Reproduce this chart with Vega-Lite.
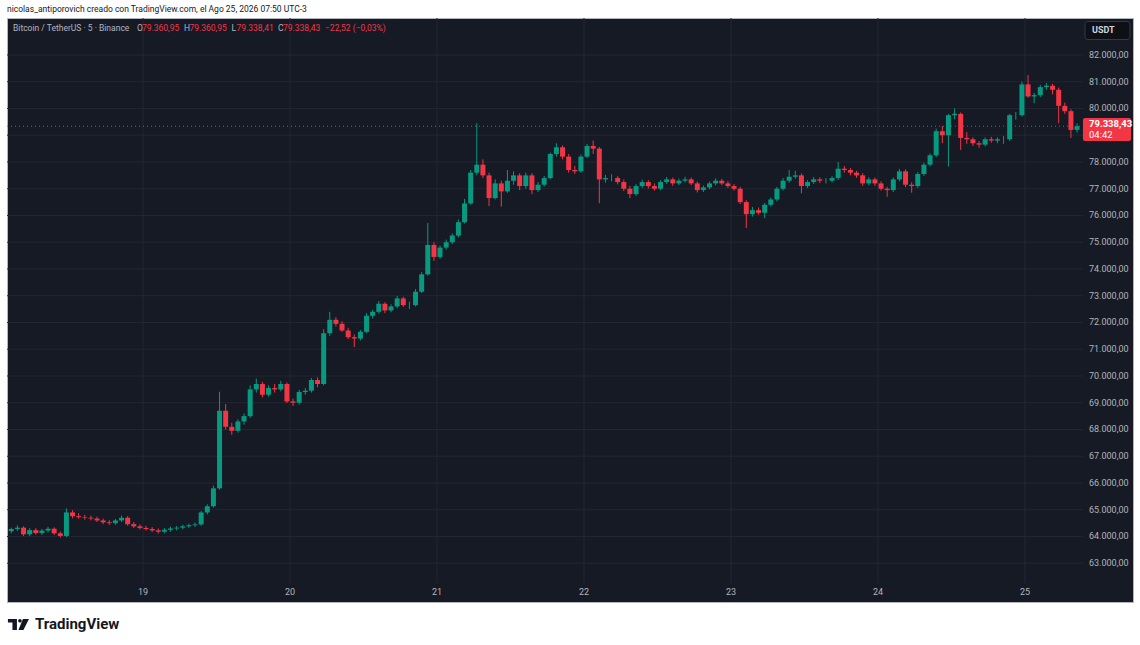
{
  "$schema": "https://vega.github.io/schema/vega-lite/v6.json",
  "width": 1126,
  "height": 584,
  "autosize": "none",
  "padding": {"left": 7, "top": 18, "right": 7, "bottom": 43},
  "background": "#ffffff",
  "title": {
    "text": "nicolas_antiporovich creado con TradingView.com, el Ago 25, 2026 07:50 UTC-3",
    "anchor": "start",
    "frame": "group",
    "font": "Roboto",
    "fontSize": 8.5,
    "fontWeight": "normal",
    "color": "#131722",
    "offset": 4
  },
  "config": {
    "view": {"fill": "#161a25", "stroke": "#b2b5be", "strokeWidth": 1},
    "locale": {
      "number": {"decimal": ",", "thousands": ".", "grouping": [3], "currency": ["", ""]}
    }
  },
  "datasets": {
    "grid": [
      {"p": 63000}, {"p": 64000}, {"p": 65000}, {"p": 66000}, {"p": 67000},
      {"p": 68000}, {"p": 69000}, {"p": 70000}, {"p": 71000}, {"p": 72000},
      {"p": 73000}, {"p": 74000}, {"p": 75000}, {"p": 76000}, {"p": 77000},
      {"p": 78000}, {"p": 79000}, {"p": 80000}, {"p": 81000}, {"p": 82000}
    ],
    "days": [
      {"d": "2026-08-19T00:00"}, {"d": "2026-08-20T00:00"}, {"d": "2026-08-21T00:00"},
      {"d": "2026-08-22T00:00"}, {"d": "2026-08-23T00:00"}, {"d": "2026-08-24T00:00"},
      {"d": "2026-08-25T00:00"}
    ],
    "candles": [
      {"t": "2026-08-18T02:30", "o": 64200, "h": 64330, "l": 64120, "c": 64280},
      {"t": "2026-08-18T03:30", "o": 64280, "h": 64420, "l": 64210, "c": 64330},
      {"t": "2026-08-18T04:30", "o": 64330, "h": 64380, "l": 64020, "c": 64080},
      {"t": "2026-08-18T05:30", "o": 64080, "h": 64310, "l": 64010, "c": 64240},
      {"t": "2026-08-18T06:30", "o": 64240, "h": 64310, "l": 64070, "c": 64130},
      {"t": "2026-08-18T07:30", "o": 64130, "h": 64280, "l": 64060, "c": 64220},
      {"t": "2026-08-18T08:30", "o": 64220, "h": 64360, "l": 64150, "c": 64290},
      {"t": "2026-08-18T09:30", "o": 64290, "h": 64340, "l": 64060, "c": 64120},
      {"t": "2026-08-18T10:30", "o": 64120, "h": 64190, "l": 63960, "c": 64020},
      {"t": "2026-08-18T11:30", "o": 64020, "h": 65050, "l": 63980, "c": 64900},
      {"t": "2026-08-18T12:30", "o": 64900, "h": 64980, "l": 64680, "c": 64760},
      {"t": "2026-08-18T13:30", "o": 64760, "h": 64870, "l": 64660, "c": 64720},
      {"t": "2026-08-18T14:30", "o": 64720, "h": 64810, "l": 64630, "c": 64700},
      {"t": "2026-08-18T15:30", "o": 64700, "h": 64780, "l": 64600, "c": 64670},
      {"t": "2026-08-18T16:30", "o": 64670, "h": 64740, "l": 64540, "c": 64600},
      {"t": "2026-08-18T17:30", "o": 64600, "h": 64670, "l": 64460, "c": 64530},
      {"t": "2026-08-18T18:30", "o": 64530, "h": 64610, "l": 64430, "c": 64500},
      {"t": "2026-08-18T19:30", "o": 64500, "h": 64660, "l": 64440, "c": 64600},
      {"t": "2026-08-18T20:30", "o": 64600, "h": 64780, "l": 64540, "c": 64700},
      {"t": "2026-08-18T21:30", "o": 64700, "h": 64760, "l": 64400, "c": 64460},
      {"t": "2026-08-18T22:30", "o": 64460, "h": 64540, "l": 64320, "c": 64380},
      {"t": "2026-08-18T23:30", "o": 64380, "h": 64450, "l": 64260, "c": 64320},
      {"t": "2026-08-19T00:30", "o": 64320, "h": 64400, "l": 64220, "c": 64280},
      {"t": "2026-08-19T01:30", "o": 64280, "h": 64350, "l": 64170, "c": 64230},
      {"t": "2026-08-19T02:30", "o": 64230, "h": 64300, "l": 64110, "c": 64180},
      {"t": "2026-08-19T03:30", "o": 64180, "h": 64320, "l": 64120, "c": 64250},
      {"t": "2026-08-19T04:30", "o": 64250, "h": 64370, "l": 64180, "c": 64300},
      {"t": "2026-08-19T05:30", "o": 64300, "h": 64390, "l": 64230, "c": 64330},
      {"t": "2026-08-19T06:30", "o": 64330, "h": 64440, "l": 64270, "c": 64380},
      {"t": "2026-08-19T07:30", "o": 64380, "h": 64480, "l": 64310, "c": 64420},
      {"t": "2026-08-19T08:30", "o": 64420, "h": 64520, "l": 64360, "c": 64450},
      {"t": "2026-08-19T09:30", "o": 64450, "h": 64950, "l": 64400, "c": 64900},
      {"t": "2026-08-19T10:30", "o": 64900, "h": 65200, "l": 64830, "c": 65130},
      {"t": "2026-08-19T11:30", "o": 65130, "h": 65900, "l": 65080, "c": 65800},
      {"t": "2026-08-19T12:30", "o": 65800, "h": 69410, "l": 65750, "c": 68700},
      {"t": "2026-08-19T13:30", "o": 68700, "h": 68950, "l": 68000, "c": 68100},
      {"t": "2026-08-19T14:30", "o": 68100, "h": 68250, "l": 67800, "c": 67950},
      {"t": "2026-08-19T15:30", "o": 67950, "h": 68380, "l": 67880, "c": 68300},
      {"t": "2026-08-19T16:30", "o": 68300, "h": 68600, "l": 68180, "c": 68500},
      {"t": "2026-08-19T17:30", "o": 68500, "h": 69650, "l": 68430, "c": 69500},
      {"t": "2026-08-19T18:30", "o": 69500, "h": 69900, "l": 69380, "c": 69700},
      {"t": "2026-08-19T19:30", "o": 69700, "h": 69780, "l": 69200, "c": 69300},
      {"t": "2026-08-19T20:30", "o": 69300, "h": 69650, "l": 69230, "c": 69550},
      {"t": "2026-08-19T21:30", "o": 69550, "h": 69700, "l": 69380, "c": 69500},
      {"t": "2026-08-19T22:30", "o": 69500, "h": 69820, "l": 69430, "c": 69700},
      {"t": "2026-08-19T23:30", "o": 69700, "h": 69760, "l": 68990, "c": 69050},
      {"t": "2026-08-20T00:30", "o": 69050, "h": 69150, "l": 68880, "c": 69000},
      {"t": "2026-08-20T01:30", "o": 69000, "h": 69480, "l": 68930, "c": 69400},
      {"t": "2026-08-20T02:30", "o": 69400, "h": 69550, "l": 69300, "c": 69450},
      {"t": "2026-08-20T03:30", "o": 69450, "h": 69920, "l": 69380, "c": 69850},
      {"t": "2026-08-20T04:30", "o": 69850, "h": 69950, "l": 69580, "c": 69700},
      {"t": "2026-08-20T05:30", "o": 69700, "h": 71750, "l": 69650, "c": 71600},
      {"t": "2026-08-20T06:30", "o": 71600, "h": 72400, "l": 71500, "c": 72100},
      {"t": "2026-08-20T07:30", "o": 72100, "h": 72200, "l": 71850, "c": 71950},
      {"t": "2026-08-20T08:30", "o": 71950, "h": 72050, "l": 71650, "c": 71700},
      {"t": "2026-08-20T09:30", "o": 71700, "h": 71800, "l": 71380, "c": 71450},
      {"t": "2026-08-20T10:30", "o": 71450, "h": 71550, "l": 71080, "c": 71400},
      {"t": "2026-08-20T11:30", "o": 71400, "h": 71720, "l": 71330, "c": 71650},
      {"t": "2026-08-20T12:30", "o": 71650, "h": 72350, "l": 71600, "c": 72250},
      {"t": "2026-08-20T13:30", "o": 72250, "h": 72480, "l": 72150, "c": 72400},
      {"t": "2026-08-20T14:30", "o": 72400, "h": 72800, "l": 72330, "c": 72700},
      {"t": "2026-08-20T15:30", "o": 72700, "h": 72760, "l": 72350, "c": 72450},
      {"t": "2026-08-20T16:30", "o": 72450, "h": 72680, "l": 72380, "c": 72600},
      {"t": "2026-08-20T17:30", "o": 72600, "h": 73000, "l": 72530, "c": 72900},
      {"t": "2026-08-20T18:30", "o": 72900, "h": 72960, "l": 72580, "c": 72650},
      {"t": "2026-08-20T19:30", "o": 72650, "h": 72780, "l": 72500, "c": 72650},
      {"t": "2026-08-20T20:30", "o": 72650, "h": 73250, "l": 72600, "c": 73150},
      {"t": "2026-08-20T21:30", "o": 73150, "h": 73880, "l": 73100, "c": 73800},
      {"t": "2026-08-20T22:30", "o": 73800, "h": 75720, "l": 73750, "c": 74900},
      {"t": "2026-08-20T23:30", "o": 74900, "h": 75000, "l": 74300, "c": 74450},
      {"t": "2026-08-21T00:30", "o": 74450, "h": 74880, "l": 74380, "c": 74800},
      {"t": "2026-08-21T01:30", "o": 74800, "h": 75100, "l": 74720, "c": 75000},
      {"t": "2026-08-21T02:30", "o": 75000, "h": 75330, "l": 74930, "c": 75250},
      {"t": "2026-08-21T03:30", "o": 75250, "h": 75850, "l": 75180, "c": 75750},
      {"t": "2026-08-21T04:30", "o": 75750, "h": 76620, "l": 75700, "c": 76450},
      {"t": "2026-08-21T05:30", "o": 76450, "h": 77700, "l": 76400, "c": 77600},
      {"t": "2026-08-21T06:30", "o": 77600, "h": 79450, "l": 77500, "c": 77900},
      {"t": "2026-08-21T07:30", "o": 77900, "h": 78100, "l": 77400, "c": 77500},
      {"t": "2026-08-21T08:30", "o": 77500, "h": 77600, "l": 76350, "c": 76650},
      {"t": "2026-08-21T09:30", "o": 76650, "h": 77350, "l": 76600, "c": 77200},
      {"t": "2026-08-21T10:30", "o": 77200, "h": 77300, "l": 76330, "c": 76900},
      {"t": "2026-08-21T11:30", "o": 76900, "h": 77700, "l": 76850, "c": 77300},
      {"t": "2026-08-21T12:30", "o": 77300, "h": 77650, "l": 77150, "c": 77500},
      {"t": "2026-08-21T13:30", "o": 77500, "h": 77580, "l": 76950, "c": 77100},
      {"t": "2026-08-21T14:30", "o": 77100, "h": 77600, "l": 77000, "c": 77500},
      {"t": "2026-08-21T15:30", "o": 77500, "h": 77580, "l": 76800, "c": 76950},
      {"t": "2026-08-21T16:30", "o": 76950, "h": 77250, "l": 76880, "c": 77150},
      {"t": "2026-08-21T17:30", "o": 77150, "h": 77480, "l": 77080, "c": 77400},
      {"t": "2026-08-21T18:30", "o": 77400, "h": 78350, "l": 77350, "c": 78300},
      {"t": "2026-08-21T19:30", "o": 78300, "h": 78700, "l": 78200, "c": 78550},
      {"t": "2026-08-21T20:30", "o": 78550, "h": 78620, "l": 78100, "c": 78200},
      {"t": "2026-08-21T21:30", "o": 78200, "h": 78300, "l": 77600, "c": 77700},
      {"t": "2026-08-21T22:30", "o": 77700, "h": 77850, "l": 77550, "c": 77650},
      {"t": "2026-08-21T23:30", "o": 77650, "h": 78280, "l": 77600, "c": 78200},
      {"t": "2026-08-22T00:30", "o": 78200, "h": 78680, "l": 78150, "c": 78600},
      {"t": "2026-08-22T01:30", "o": 78600, "h": 78800, "l": 78300, "c": 78500},
      {"t": "2026-08-22T02:30", "o": 78500, "h": 78560, "l": 76460, "c": 77350},
      {"t": "2026-08-22T03:30", "o": 77350, "h": 77520, "l": 77230, "c": 77400},
      {"t": "2026-08-22T04:30", "o": 77400, "h": 77540, "l": 77280, "c": 77400},
      {"t": "2026-08-22T05:30", "o": 77400, "h": 77470, "l": 77160, "c": 77250},
      {"t": "2026-08-22T06:30", "o": 77250, "h": 77340, "l": 76910, "c": 77000},
      {"t": "2026-08-22T07:30", "o": 77000, "h": 77100, "l": 76650, "c": 76800},
      {"t": "2026-08-22T08:30", "o": 76800, "h": 77170, "l": 76730, "c": 77100},
      {"t": "2026-08-22T09:30", "o": 77100, "h": 77340, "l": 77030, "c": 77250},
      {"t": "2026-08-22T10:30", "o": 77250, "h": 77320, "l": 77010, "c": 77100},
      {"t": "2026-08-22T11:30", "o": 77100, "h": 77200, "l": 76930, "c": 77000},
      {"t": "2026-08-22T12:30", "o": 77000, "h": 77320, "l": 76940, "c": 77250},
      {"t": "2026-08-22T13:30", "o": 77250, "h": 77440, "l": 77180, "c": 77350},
      {"t": "2026-08-22T14:30", "o": 77350, "h": 77420, "l": 77110, "c": 77200},
      {"t": "2026-08-22T15:30", "o": 77200, "h": 77380, "l": 77130, "c": 77300},
      {"t": "2026-08-22T16:30", "o": 77300, "h": 77450, "l": 77230, "c": 77350},
      {"t": "2026-08-22T17:30", "o": 77350, "h": 77420, "l": 77130, "c": 77200},
      {"t": "2026-08-22T18:30", "o": 77200, "h": 77270, "l": 76860, "c": 76950},
      {"t": "2026-08-22T19:30", "o": 76950, "h": 77120, "l": 76880, "c": 77050},
      {"t": "2026-08-22T20:30", "o": 77050, "h": 77270, "l": 76980, "c": 77200},
      {"t": "2026-08-22T21:30", "o": 77200, "h": 77390, "l": 77130, "c": 77300},
      {"t": "2026-08-22T22:30", "o": 77300, "h": 77370, "l": 77130, "c": 77200},
      {"t": "2026-08-22T23:30", "o": 77200, "h": 77280, "l": 77030, "c": 77100},
      {"t": "2026-08-23T00:30", "o": 77100, "h": 77170, "l": 76930, "c": 77000},
      {"t": "2026-08-23T01:30", "o": 77000, "h": 77070, "l": 76430, "c": 76500},
      {"t": "2026-08-23T02:30", "o": 76500, "h": 76570, "l": 75530, "c": 76050},
      {"t": "2026-08-23T03:30", "o": 76050, "h": 76320, "l": 75960, "c": 76200},
      {"t": "2026-08-23T04:30", "o": 76200, "h": 76300, "l": 76030, "c": 76100},
      {"t": "2026-08-23T05:30", "o": 76100, "h": 76470, "l": 75900, "c": 76400},
      {"t": "2026-08-23T06:30", "o": 76400, "h": 76670, "l": 76330, "c": 76600},
      {"t": "2026-08-23T07:30", "o": 76600, "h": 77070, "l": 76530, "c": 77000},
      {"t": "2026-08-23T08:30", "o": 77000, "h": 77400, "l": 76930, "c": 77300},
      {"t": "2026-08-23T09:30", "o": 77300, "h": 77700, "l": 77230, "c": 77450},
      {"t": "2026-08-23T10:30", "o": 77450, "h": 77670, "l": 77380, "c": 77500},
      {"t": "2026-08-23T11:30", "o": 77500, "h": 77570, "l": 76830, "c": 77100},
      {"t": "2026-08-23T12:30", "o": 77100, "h": 77320, "l": 77030, "c": 77250},
      {"t": "2026-08-23T13:30", "o": 77250, "h": 77440, "l": 77180, "c": 77350},
      {"t": "2026-08-23T14:30", "o": 77350, "h": 77420, "l": 77210, "c": 77300},
      {"t": "2026-08-23T15:30", "o": 77300, "h": 77400, "l": 77200, "c": 77300},
      {"t": "2026-08-23T16:30", "o": 77300, "h": 77470, "l": 77230, "c": 77400},
      {"t": "2026-08-23T17:30", "o": 77400, "h": 78000, "l": 77330, "c": 77750},
      {"t": "2026-08-23T18:30", "o": 77750, "h": 77850, "l": 77600, "c": 77700},
      {"t": "2026-08-23T19:30", "o": 77700, "h": 77770, "l": 77500, "c": 77600},
      {"t": "2026-08-23T20:30", "o": 77600, "h": 77670, "l": 77410, "c": 77500},
      {"t": "2026-08-23T21:30", "o": 77500, "h": 77580, "l": 77110, "c": 77200},
      {"t": "2026-08-23T22:30", "o": 77200, "h": 77430, "l": 77130, "c": 77350},
      {"t": "2026-08-23T23:30", "o": 77350, "h": 77420, "l": 77110, "c": 77200},
      {"t": "2026-08-24T00:30", "o": 77200, "h": 77280, "l": 76930, "c": 77000},
      {"t": "2026-08-24T01:30", "o": 77000, "h": 77070, "l": 76700, "c": 76950},
      {"t": "2026-08-24T02:30", "o": 76950, "h": 77420, "l": 76880, "c": 77350},
      {"t": "2026-08-24T03:30", "o": 77350, "h": 77740, "l": 77280, "c": 77650},
      {"t": "2026-08-24T04:30", "o": 77650, "h": 77720, "l": 77060, "c": 77150},
      {"t": "2026-08-24T05:30", "o": 77150, "h": 77240, "l": 76850, "c": 77100},
      {"t": "2026-08-24T06:30", "o": 77100, "h": 77620, "l": 77030, "c": 77550},
      {"t": "2026-08-24T07:30", "o": 77550, "h": 77970, "l": 77480, "c": 77900},
      {"t": "2026-08-24T08:30", "o": 77900, "h": 78320, "l": 77830, "c": 78250},
      {"t": "2026-08-24T09:30", "o": 78250, "h": 79250, "l": 78180, "c": 79150},
      {"t": "2026-08-24T10:30", "o": 79150, "h": 79350, "l": 78700, "c": 79000},
      {"t": "2026-08-24T11:30", "o": 79000, "h": 79800, "l": 77830, "c": 79750},
      {"t": "2026-08-24T12:30", "o": 79750, "h": 80000, "l": 79600, "c": 79800},
      {"t": "2026-08-24T13:30", "o": 79800, "h": 79850, "l": 78450, "c": 78900},
      {"t": "2026-08-24T14:30", "o": 78900, "h": 79120, "l": 78680, "c": 78850},
      {"t": "2026-08-24T15:30", "o": 78850, "h": 78920, "l": 78600, "c": 78700},
      {"t": "2026-08-24T16:30", "o": 78700, "h": 78780, "l": 78530, "c": 78650},
      {"t": "2026-08-24T17:30", "o": 78650, "h": 78920, "l": 78580, "c": 78850},
      {"t": "2026-08-24T18:30", "o": 78850, "h": 78940, "l": 78720, "c": 78800},
      {"t": "2026-08-24T19:30", "o": 78800, "h": 78920, "l": 78700, "c": 78850},
      {"t": "2026-08-24T20:30", "o": 78850, "h": 78970, "l": 78680, "c": 78850},
      {"t": "2026-08-24T21:30", "o": 78850, "h": 79800, "l": 78780, "c": 79750},
      {"t": "2026-08-24T22:30", "o": 79750, "h": 79870, "l": 79580, "c": 79750},
      {"t": "2026-08-24T23:30", "o": 79750, "h": 81000, "l": 79700, "c": 80900},
      {"t": "2026-08-25T00:30", "o": 80900, "h": 81250, "l": 80400, "c": 80450},
      {"t": "2026-08-25T01:30", "o": 80450, "h": 80580, "l": 80200, "c": 80500},
      {"t": "2026-08-25T02:30", "o": 80500, "h": 80880, "l": 80430, "c": 80800},
      {"t": "2026-08-25T03:30", "o": 80800, "h": 80950, "l": 80700, "c": 80850},
      {"t": "2026-08-25T04:30", "o": 80850, "h": 80920, "l": 80530, "c": 80700},
      {"t": "2026-08-25T05:30", "o": 80700, "h": 80780, "l": 79450, "c": 80100},
      {"t": "2026-08-25T06:30", "o": 80100, "h": 80220, "l": 79800, "c": 79900},
      {"t": "2026-08-25T07:30", "o": 79900, "h": 79970, "l": 78900, "c": 79200},
      {"t": "2026-08-25T08:30", "o": 79200, "h": 79450, "l": 79100, "c": 79338.43}
    ]
  },
  "layer": [
    {
      "data": {"name": "grid"},
      "mark": {"type": "rule", "color": "#242733", "strokeWidth": 1},
      "encoding": {
        "y": {
          "field": "p",
          "type": "quantitative",
          "scale": {"domain": [61551, 83383], "nice": false, "zero": false},
          "axis": null
        },
        "x": {
          "datum": {"year": 2026, "month": 8, "date": 18, "hours": 1, "minutes": 48},
          "type": "temporal",
          "scale": {
            "domain": [
              {"year": 2026, "month": 8, "date": 18, "hours": 1, "minutes": 48},
              {"year": 2026, "month": 8, "date": 25, "hours": 17, "minutes": 38}
            ],
            "padding": 0
          },
          "axis": null
        },
        "x2": {"datum": {"year": 2026, "month": 8, "date": 25, "hours": 9, "minutes": 28}}
      }
    },
    {
      "data": {"name": "days"},
      "mark": {"type": "rule", "color": "#242733", "strokeWidth": 1},
      "encoding": {
        "x": {"field": "d", "type": "temporal", "axis": null},
        "y": {"datum": 83383, "type": "quantitative", "axis": null},
        "y2": {"datum": 62261}
      }
    },
    {
      "data": {"name": "grid"},
      "transform": [{"filter": "datum.p != 79000"}],
      "mark": {"type": "text", "align": "left", "baseline": "middle", "font": "Roboto", "fontSize": 9, "color": "#b2b5be"},
      "encoding": {
        "x": {"datum": {"year": 2026, "month": 8, "date": 25, "hours": 10, "minutes": 27}, "type": "temporal", "axis": null},
        "y": {"field": "p", "type": "quantitative", "axis": null},
        "text": {"field": "p", "type": "quantitative", "format": ",.2f"}
      }
    },
    {
      "data": {"name": "days"},
      "mark": {"type": "text", "align": "center", "baseline": "middle", "font": "Roboto", "fontSize": 9, "color": "#b2b5be"},
      "encoding": {
        "x": {"field": "d", "type": "temporal", "axis": null},
        "y": {"datum": 61925, "type": "quantitative", "axis": null},
        "text": {"field": "d", "type": "temporal", "format": "%-d"}
      }
    },
    {
      "data": {"values": [{}]},
      "mark": {"type": "rule", "color": "#f23645", "strokeWidth": 1, "strokeDash": [1, 3], "opacity": 0.9},
      "encoding": {
        "y": {"datum": 79338.43, "type": "quantitative", "axis": null},
        "x": {"datum": {"year": 2026, "month": 8, "date": 18, "hours": 1, "minutes": 48}, "type": "temporal", "axis": null},
        "x2": {"datum": {"year": 2026, "month": 8, "date": 25, "hours": 9, "minutes": 28}}
      }
    },
    {
      "data": {"name": "candles"},
      "mark": {"type": "rule", "strokeWidth": 1},
      "encoding": {
        "x": {"field": "t", "type": "temporal", "axis": null},
        "y": {"field": "l", "type": "quantitative", "axis": null},
        "y2": {"field": "h"},
        "color": {
          "condition": {"test": "datum.c >= datum.o", "value": "#089981"},
          "value": "#f23645"
        }
      }
    },
    {
      "data": {"name": "candles"},
      "mark": {"type": "bar", "size": 5},
      "encoding": {
        "x": {"field": "t", "type": "temporal", "axis": null},
        "y": {"field": "o", "type": "quantitative", "axis": null},
        "y2": {"field": "c"},
        "color": {
          "condition": {"test": "datum.c >= datum.o", "value": "#089981"},
          "value": "#f23645"
        }
      }
    },
    {
      "data": {"values": [{}]},
      "mark": {"type": "text", "text": "Bitcoin / TetherUS · 5 · Binance", "align": "left", "baseline": "middle", "font": "Roboto", "fontSize": 8.5, "color": "#b2b5be"},
      "encoding": {
        "x": {"datum": {"year": 2026, "month": 8, "date": 18, "hours": 2, "minutes": 47}, "type": "temporal", "axis": null},
        "y": {"datum": 83009, "type": "quantitative", "axis": null}
      }
    },
    {
      "data": {"values": [{}]},
      "mark": {"type": "text", "text": "O", "align": "left", "baseline": "middle", "font": "Roboto", "fontSize": 8.5, "color": "#b2b5be"},
      "encoding": {
        "x": {"datum": {"year": 2026, "month": 8, "date": 18, "hours": 23, "minutes": 1}, "type": "temporal", "axis": null},
        "y": {"datum": 83009, "type": "quantitative", "axis": null}
      }
    },
    {
      "data": {"values": [{}]},
      "mark": {"type": "text", "text": "79.360,95", "align": "left", "baseline": "middle", "font": "Roboto", "fontSize": 8.5, "color": "#f23645"},
      "encoding": {
        "x": {"datum": {"year": 2026, "month": 8, "date": 18, "hours": 23, "minutes": 50}, "type": "temporal", "axis": null},
        "y": {"datum": 83009, "type": "quantitative", "axis": null}
      }
    },
    {
      "data": {"values": [{}]},
      "mark": {"type": "text", "text": "H", "align": "left", "baseline": "middle", "font": "Roboto", "fontSize": 8.5, "color": "#b2b5be"},
      "encoding": {
        "x": {"datum": {"year": 2026, "month": 8, "date": 19, "hours": 6, "minutes": 41}, "type": "temporal", "axis": null},
        "y": {"datum": 83009, "type": "quantitative", "axis": null}
      }
    },
    {
      "data": {"values": [{}]},
      "mark": {"type": "text", "text": "79.360,95", "align": "left", "baseline": "middle", "font": "Roboto", "fontSize": 8.5, "color": "#f23645"},
      "encoding": {
        "x": {"datum": {"year": 2026, "month": 8, "date": 19, "hours": 7, "minutes": 35}, "type": "temporal", "axis": null},
        "y": {"datum": 83009, "type": "quantitative", "axis": null}
      }
    },
    {
      "data": {"values": [{}]},
      "mark": {"type": "text", "text": "L", "align": "left", "baseline": "middle", "font": "Roboto", "fontSize": 8.5, "color": "#b2b5be"},
      "encoding": {
        "x": {"datum": {"year": 2026, "month": 8, "date": 19, "hours": 14, "minutes": 27}, "type": "temporal", "axis": null},
        "y": {"datum": 83009, "type": "quantitative", "axis": null}
      }
    },
    {
      "data": {"values": [{}]},
      "mark": {"type": "text", "text": "79.338,41", "align": "left", "baseline": "middle", "font": "Roboto", "fontSize": 8.5, "color": "#f23645"},
      "encoding": {
        "x": {"datum": {"year": 2026, "month": 8, "date": 19, "hours": 15, "minutes": 16}, "type": "temporal", "axis": null},
        "y": {"datum": 83009, "type": "quantitative", "axis": null}
      }
    },
    {
      "data": {"values": [{}]},
      "mark": {"type": "text", "text": "C", "align": "left", "baseline": "middle", "font": "Roboto", "fontSize": 8.5, "color": "#b2b5be"},
      "encoding": {
        "x": {"datum": {"year": 2026, "month": 8, "date": 19, "hours": 22, "minutes": 2}, "type": "temporal", "axis": null},
        "y": {"datum": 83009, "type": "quantitative", "axis": null}
      }
    },
    {
      "data": {"values": [{}]},
      "mark": {"type": "text", "text": "79.338,43", "align": "left", "baseline": "middle", "font": "Roboto", "fontSize": 8.5, "color": "#f23645"},
      "encoding": {
        "x": {"datum": {"year": 2026, "month": 8, "date": 19, "hours": 22, "minutes": 51}, "type": "temporal", "axis": null},
        "y": {"datum": 83009, "type": "quantitative", "axis": null}
      }
    },
    {
      "data": {"values": [{}]},
      "mark": {"type": "text", "text": "−22,52 (−0,03%)", "align": "left", "baseline": "middle", "font": "Roboto", "fontSize": 8.5, "color": "#f23645"},
      "encoding": {
        "x": {"datum": {"year": 2026, "month": 8, "date": 20, "hours": 5, "minutes": 43}, "type": "temporal", "axis": null},
        "y": {"datum": 83009, "type": "quantitative", "axis": null}
      }
    },
    {
      "data": {"values": [{}]},
      "mark": {"type": "rect", "color": "#f23645", "cornerRadius": 2},
      "encoding": {
        "x": {"datum": {"year": 2026, "month": 8, "date": 25, "hours": 9, "minutes": 28}, "type": "temporal", "axis": null},
        "x2": {"datum": {"year": 2026, "month": 8, "date": 25, "hours": 17, "minutes": 19}},
        "y": {"datum": 79645, "type": "quantitative", "axis": null},
        "y2": {"datum": 78785}
      }
    },
    {
      "data": {"values": [{}]},
      "mark": {"type": "text", "text": "79.338,43", "align": "left", "baseline": "middle", "font": "Roboto", "fontSize": 9.5, "fontWeight": "bold", "color": "#ffffff"},
      "encoding": {
        "x": {"datum": {"year": 2026, "month": 8, "date": 25, "hours": 10, "minutes": 27}, "type": "temporal", "axis": null},
        "y": {"datum": 79402, "type": "quantitative", "axis": null}
      }
    },
    {
      "data": {"values": [{}]},
      "mark": {"type": "text", "text": "04:42", "align": "left", "baseline": "middle", "font": "Roboto", "fontSize": 9.5, "color": "#ffffff"},
      "encoding": {
        "x": {"datum": {"year": 2026, "month": 8, "date": 25, "hours": 10, "minutes": 27}, "type": "temporal", "axis": null},
        "y": {"datum": 78991, "type": "quantitative", "axis": null}
      }
    },
    {
      "data": {"values": [{}]},
      "mark": {"type": "rect", "fill": "#0e1016", "stroke": "#363a45", "strokeWidth": 1, "cornerRadius": 3},
      "encoding": {
        "x": {"datum": {"year": 2026, "month": 8, "date": 25, "hours": 9, "minutes": 48}, "type": "temporal", "axis": null},
        "x2": {"datum": {"year": 2026, "month": 8, "date": 25, "hours": 17, "minutes": 8}},
        "y": {"datum": 83252, "type": "quantitative", "axis": null},
        "y2": {"datum": 82579}
      }
    },
    {
      "data": {"values": [{}]},
      "mark": {"type": "text", "text": "USDT", "align": "left", "baseline": "middle", "font": "Roboto", "fontSize": 9, "fontWeight": "bold", "color": "#d1d4dc"},
      "encoding": {
        "x": {"datum": {"year": 2026, "month": 8, "date": 25, "hours": 10, "minutes": 56}, "type": "temporal", "axis": null},
        "y": {"datum": 82916, "type": "quantitative", "axis": null}
      }
    },
    {
      "data": {"values": [{}]},
      "mark": {
        "type": "point",
        "filled": true,
        "opacity": 1,
        "size": 441,
        "color": "#131722",
        "shape": "M-1,-0.524 L-0.143,-0.524 L-0.143,0.524 L-0.571,0.524 L-0.571,-0.19 L-1,-0.19 Z M-0.028,-0.352 A0.171,0.171 0 1,0 0.314,-0.352 A0.171,0.171 0 1,0 -0.028,-0.352 Z M0.429,-0.524 L1,-0.524 L0.476,0.524 L0,0.524 Z"
      },
      "encoding": {
        "x": {"datum": {"year": 2026, "month": 8, "date": 18, "hours": 3, "minutes": 40}, "type": "temporal", "axis": null},
        "y": {"datum": 60710, "type": "quantitative", "axis": null}
      }
    },
    {
      "data": {"values": [{}]},
      "mark": {"type": "text", "text": "TradingView", "align": "left", "baseline": "middle", "font": "Roboto", "fontSize": 15, "fontWeight": "bold", "color": "#131722"},
      "encoding": {
        "x": {"datum": {"year": 2026, "month": 8, "date": 18, "hours": 6, "minutes": 22}, "type": "temporal", "axis": null},
        "y": {"datum": 60710, "type": "quantitative", "axis": null}
      }
    }
  ]
}
